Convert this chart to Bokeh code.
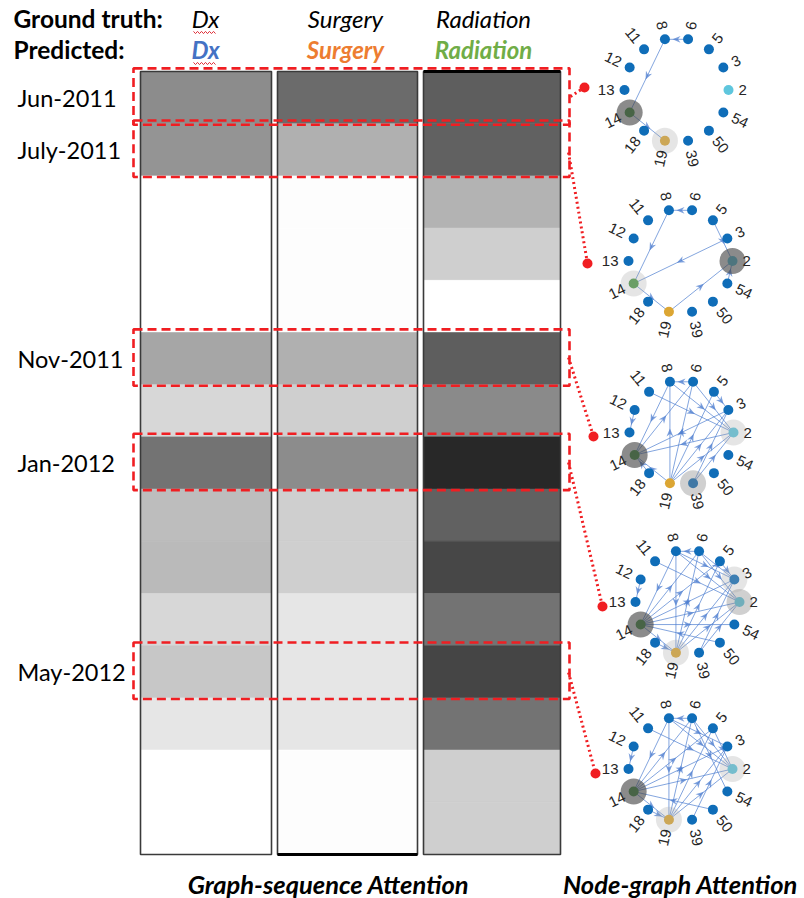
import math

from bokeh.core.properties import value
from bokeh.embed import file_html
from bokeh.models import ColumnDataSource, LinearColorMapper, Range1d
from bokeh.palettes import Greys256
from bokeh.plotting import figure
from bokeh.resources import INLINE

# ---------------------------------------------------------------- data
months = ["Jun-2011", "July-2011", "Aug-2011", "Sep-2011", "Oct-2011",
          "Nov-2011", "Dec-2011", "Jan-2012", "Feb-2012", "Mar-2012",
          "Apr-2012", "May-2012", "Jun-2012", "Jul-2012", "Aug-2012"]
highlighted = ["Jun-2011", "July-2011", "Nov-2011", "Jan-2012", "May-2012"]

treatments = ["Dx", "Surgery", "Radiation"]
treatment_colors = ["#4472c4", "#ed7d31", "#70ad47"]

# graph-sequence attention per month (0 = none / white, 1 = full / black)
attn_dx = [0.45, 0.42, 0.00, 0.00, 0.00, 0.35, 0.16, 0.55, 0.26, 0.27,
           0.16, 0.22, 0.10, 0.00, 0.00]
attn_surgery = [0.58, 0.31, 0.01, 0.01, 0.01, 0.31, 0.19, 0.45, 0.19, 0.19,
                0.10, 0.10, 0.10, 0.01, 0.01]
attn_radiation = [0.63, 0.62, 0.30, 0.19, 0.00, 0.63, 0.46, 0.84, 0.62, 0.72,
                  0.55, 0.73, 0.55, 0.19, 0.19]

# node-graph attention: nodes in counter-clockwise order starting at 3 o'clock
node_ids = ["2", "3", "5", "6", "8", "11", "12", "13", "14", "18", "19",
            "39", "50", "54"]
node_fill = {"2": "#5fc6dd", "14": "#4f9a4a", "19": "#dca633"}
default_node_fill = "#0f6db8"

# directed edges (source, target) for each highlighted month
graph_edges = [
    [("6", "8"), ("8", "14"), ("14", "19")],
    [("6", "8"), ("8", "14"), ("3", "14"), ("5", "2"), ("19", "2"),
     ("14", "19"), ("54", "2")],
    [("6", "8"), ("8", "14"), ("12", "13"), ("11", "2"), ("8", "2"),
     ("6", "2"), ("5", "3"), ("3", "14"), ("2", "14"), ("19", "8"),
     ("19", "6"), ("19", "5"), ("19", "3"), ("19", "2"), ("14", "6"),
     ("39", "3"), ("39", "2"), ("18", "14"), ("19", "14")],
    [("6", "8"), ("8", "19"), ("12", "13"), ("8", "14"), ("11", "2"),
     ("8", "2"), ("6", "2"), ("5", "3"), ("6", "3"), ("14", "2"),
     ("14", "3"), ("14", "5"), ("14", "6"), ("19", "5"), ("19", "3"),
     ("19", "2"), ("19", "6"), ("39", "2"), ("39", "3"), ("50", "14"),
     ("18", "19"), ("14", "19"), ("14", "54"), ("8", "3")],
    [("6", "8"), ("8", "19"), ("12", "13"), ("8", "14"), ("11", "2"),
     ("8", "2"), ("6", "2"), ("5", "2"), ("8", "3"), ("14", "2"),
     ("14", "3"), ("14", "5"), ("14", "6"), ("19", "2"), ("19", "3"),
     ("19", "5"), ("19", "6"), ("39", "3"), ("50", "14"), ("18", "19"),
     ("14", "19"), ("6", "54")],
]

# highlighted nodes with their attention level
graph_halos = [
    [("14", "strong"), ("19", "weak")],
    [("2", "strong"), ("14", "weak")],
    [("14", "strong"), ("2", "weak"), ("39", "medium")],
    [("14", "strong"), ("2", "medium"), ("3", "weak"), ("19", "weak")],
    [("14", "strong"), ("2", "weak"), ("19", "weak")],
]
halo_style = {"strong": ("#444444", 0.62), "medium": ("#8a8a8a", 0.4),
              "weak": ("#a8a8a8", 0.3)}

# ---------------------------------------------------------------- layout
W, H = 804, 898
ROW_TOP, ROW_H = 71.0, 52.2
col_edges = [(140, 271), (277, 417), (423, 560)]
box_x = (133, 569)
graph_centers = [(676, 89.5), (680, 260.5), (681, 432), (687, 601.5),
                 (680, 768.5)]
R = 52
connector_from = [(570, 96), (568, 152), (568, 357), (568, 462), (568, 672)]
connector_dot = [(584, 87), (587, 263), (593, 436), (602, 606), (595, 773)]
RED = "#f01e22"
CAL = value("Lato")

p = figure(width=W, height=H, x_range=Range1d(0, W), y_range=Range1d(H, 0),
           output_backend="svg", toolbar_location=None, min_border=0,
           x_axis_location=None, y_axis_location=None,
           outline_line_color=None, background_fill_color="white",
           border_fill_color="white")
p.grid.visible = False
# month rows mapped onto the page
p.extra_y_ranges = {"rows": Range1d(start=(H - ROW_TOP) / ROW_H,
                                    end=-ROW_TOP / ROW_H)}

# ------------------------------------------------------- heatmap columns
mapper = LinearColorMapper(palette=list(reversed(Greys256)), low=0, high=1)
cells = dict(left=[], right=[], top=[], bottom=[], attn=[])
for (x0, x1), series in zip(col_edges, [attn_dx, attn_surgery, attn_radiation]):
    for r, a in enumerate(series):
        cells["left"].append(x0)
        cells["right"].append(x1)
        cells["top"].append(r)
        cells["bottom"].append(r + 1)
        cells["attn"].append(a)
cmap = {"field": "attn", "transform": mapper}
p.quad(source=ColumnDataSource(cells), left="left", right="right", top="top",
       bottom="bottom", fill_color=cmap, line_color=cmap, line_width=0.6,
       y_range_name="rows")
p.quad(left=[e[0] for e in col_edges], right=[e[1] for e in col_edges],
       top=0, bottom=len(months), fill_color=None, line_color="#3a3a3a",
       line_width=1.6, y_range_name="rows")
p.segment(x0=[col_edges[1][0], col_edges[2][0]], x1=[col_edges[1][1], col_edges[2][1]],
          y0=[len(months), 0], y1=[len(months), 0], line_color="black",
          line_width=3, y_range_name="rows")

# highlighted months: dashed boxes and labels
rows_hl = [months.index(m) for m in highlighted]
p.quad(left=box_x[0], right=box_x[1], top=[r - 0.06 for r in rows_hl],
       bottom=[r + 1.02 for r in rows_hl], fill_color=None, line_color=RED,
       line_width=2.6, line_dash="9 5", y_range_name="rows")
p.text(x=17, y=[r + 0.5 for r in rows_hl], text=highlighted,
       text_font=CAL, text_font_size="23.5px", text_color="black",
       text_baseline="middle", text_align="left", y_range_name="rows")

# ------------------------------------------------------------- headers
head_x = [205, 345, 483]
p.text(x=[13, 13], y=[18, 49], text=["Ground truth:", "Predicted:"],
       text_font=CAL, text_font_size="24.5px", text_font_style="bold",
       text_baseline="middle", text_align="left", text_color="black")
p.text(x=head_x, y=18, text=treatments, text_font=CAL, text_font_size="24px",
       text_font_style="italic", text_baseline="middle", text_align="center",
       text_color="black")
p.text(x=head_x, y=49, text=treatments, text_font=CAL, text_font_size="24px",
       text_font_style="bold italic", text_baseline="middle",
       text_align="center", text_color=treatment_colors)
# spell-check squiggles under "Dx"
for y0 in (32, 63):
    xs = [193 + 2 * i for i in range(12)]
    ys = [y0 + (1.1 if i % 2 else -1.1) for i in range(12)]
    p.line(xs, ys, line_color="#e0303a", line_width=1)

p.text(x=[328, 680], y=883, text=["Graph-sequence Attention", "Node-graph Attention"],
       text_font=CAL, text_font_size="25.5px", text_font_style="bold italic",
       text_baseline="middle", text_align="center", text_color="black")

# ----------------------------------------------------- node-graph panels
n = len(node_ids)
angles = [2 * math.pi * k / n for k in range(n)]
for (cx, cy), edges, halos in zip(graph_centers, graph_edges, graph_halos):
    pos = {nid: (cx + R * math.cos(a), cy - R * math.sin(a))
           for nid, a in zip(node_ids, angles)}

    ex0, ey0, ex1, ey1, axs, ays = [], [], [], [], [], []
    for s, t in edges:
        (x0, y0), (x1, y1) = pos[s], pos[t]
        ex0.append(x0); ey0.append(y0); ex1.append(x1); ey1.append(y1)
        d = math.hypot(x1 - x0, y1 - y0)
        ux, uy = (x1 - x0) / d, (y1 - y0) / d
        nx, ny = -uy, ux
        mx, my = (x0 + x1) / 2, (y0 + y1) / 2
        axs.append([mx + 4 * ux, mx - 4 * ux + 3.4 * nx, mx - 1.5 * ux,
                    mx - 4 * ux - 3.4 * nx])
        ays.append([my + 4 * uy, my - 4 * uy + 3.4 * ny, my - 1.5 * uy,
                    my - 4 * uy - 3.4 * ny])
    p.segment(x0=ex0, y0=ey0, x1=ex1, y1=ey1, line_color="#4f7fd0",
              line_alpha=0.7, line_width=1)
    p.patches(xs=axs, ys=ays, fill_color="#4f7fd0", fill_alpha=0.75,
              line_color=None)

    p.scatter(x=[pos[k][0] for k in node_ids], y=[pos[k][1] for k in node_ids],
              size=10, marker="circle", line_color=None,
              fill_color=[node_fill.get(k, default_node_fill) for k in node_ids])
    for nid, level in halos:
        col, alpha = halo_style[level]
        p.scatter(x=[pos[nid][0]], y=[pos[nid][1]], size=26, marker="circle",
                  fill_color=col, fill_alpha=alpha, line_color=None)

    lx, ly, la, lal = [], [], [], []
    for nid, a in zip(node_ids, angles):
        lx.append(cx + (R + 10) * math.cos(a))
        ly.append(cy - (R + 10) * math.sin(a))
        if not (math.pi / 2 < a < 3 * math.pi / 2):
            la.append(a); lal.append("left")
        else:
            la.append(a - math.pi); lal.append("right")
    p.text(x=lx, y=ly, text=node_ids, angle=la, text_align=lal,
           text_baseline="middle", text_font=value("Liberation Sans"),
           text_font_size="15px", text_color="#262626")

# dotted connectors from the month boxes to their graphs
p.segment(x0=[a[0] for a in connector_from], y0=[a[1] for a in connector_from],
          x1=[b[0] for b in connector_dot], y1=[b[1] for b in connector_dot],
          line_color=RED, line_width=3, line_dash="2 3")
p.scatter(x=[b[0] for b in connector_dot], y=[b[1] for b in connector_dot],
          size=10, marker="circle", fill_color=RED, line_color=None)

open("out.html", "w").write(file_html(p, INLINE))
